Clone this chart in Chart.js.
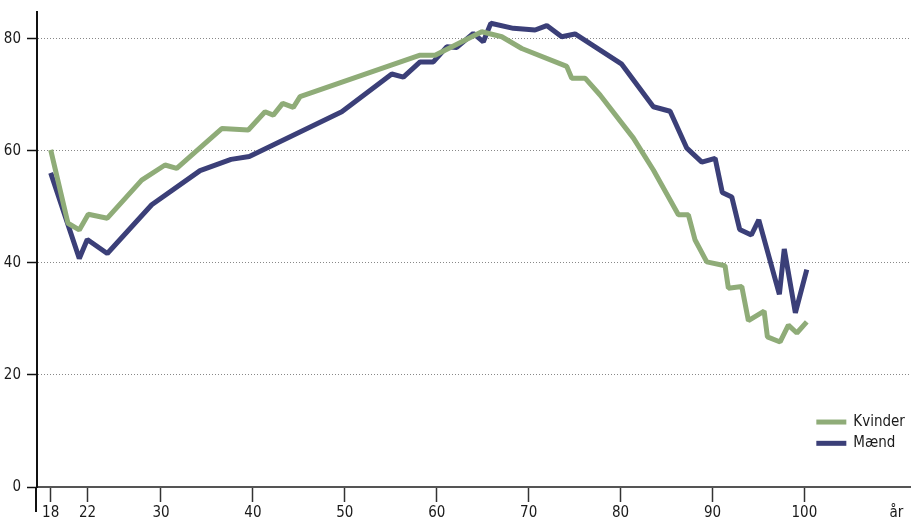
<!DOCTYPE html>
<html>
<head>
<meta charset="utf-8">
<script src="https://cdn.jsdelivr.net/npm/chart.js@4/dist/chart.umd.min.js"></script>
<style>
html,body{margin:0;padding:0;background:#fff;}
#c{display:block;}
</style>
</head>
<body>
<canvas id="c" width="911" height="519"></canvas>
<script>
// ---- data ----
const ageKvinder = [18, 19.88, 21.11, 22.09, 24.16, 27.9, 30.44, 31.71, 36.61, 39.5, 41.32, 42.22, 43.24, 44.4, 45.13, 58.19, 59.82, 64.9, 67.08, 69.25, 74.15, 74.69, 76.14, 77.77, 81.4, 83.57, 86.29, 87.38, 88.11, 89.38, 91.37, 91.73, 93.19, 93.91, 95.62, 95.98, 97.36, 98.26, 99.18, 100.26];
const valKvinder = [60.2, 47.1, 45.9, 48.7, 48.0, 54.8, 57.5, 56.9, 64.0, 63.75, 67.0, 66.4, 68.5, 67.8, 69.7, 77.1, 77.1, 81.3, 80.4, 78.3, 75.1, 73.0, 73.0, 70.0, 62.3, 56.6, 48.6, 48.6, 44.1, 40.2, 39.5, 35.5, 35.8, 29.7, 31.4, 26.8, 25.9, 28.9, 27.5, 29.5];
const ageMaend = [18, 21.11, 21.98, 24.16, 28.99, 34.25, 37.62, 39.61, 49.67, 55.11, 56.37, 58.19, 59.63, 61.09, 62.18, 63.98, 65.07, 65.88, 68.34, 70.7, 71.97, 73.6, 75.05, 80.13, 83.57, 85.39, 87.21, 88.84, 90.29, 91.07, 92.1, 92.96, 94.23, 95.04, 97.28, 97.81, 99.02, 100.26];
const valMaend = [56.1, 40.8, 44.2, 41.7, 50.4, 56.5, 58.5, 59.0, 67.0, 73.75, 73.2, 75.9, 75.9, 78.6, 78.5, 81.0, 79.5, 82.8, 81.9, 81.6, 82.4, 80.4, 80.9, 75.5, 67.9, 67.1, 60.5, 58.0, 58.7, 52.6, 51.8, 46.0, 45.0, 47.7, 34.4, 42.5, 31.1, 38.8];
const seriesNames = ['Kvinder', 'Mænd'];
const xTickValues = [18, 22, 30, 40, 50, 60, 70, 80, 90, 100, 110];
const xTickLabels = ['18', '22', '30', '40', '50', '60', '70', '80', '90', '100', 'år'];
const yTickValues = [0, 20, 40, 60, 80];

// ---- styles ----
const GREEN = '#8fac78';
const NAVY = '#3b3f78';
const FONT = '"Liberation Sans Narrow", "DejaVu Sans Condensed", "Roboto Condensed", "Liberation Sans", sans-serif';
const TEXT = '#1a1a1a';

const pts = (xs, ys) => xs.map((x, i) => ({x: x, y: ys[i]}));

const extras = {
  id: 'extras',
  afterDraw(chart) {
    const ctx = chart.ctx;
    const ys = chart.scales.y;
    const xs = chart.scales.x;
    // y axis line continuing below the x axis
    ctx.save();
    ctx.strokeStyle = '#111';
    ctx.lineWidth = 2;
    ctx.beginPath();
    const lx = Math.round(ys.right) - 1;
    ctx.moveTo(lx, ys.bottom);
    ctx.lineTo(lx, ys.bottom + 25);
    ctx.stroke();
    // legend
    const ds = chart.data.datasets;
    const lx0 = xs.getPixelForValue(101.3);
    const rowY = [ys.getPixelForValue(11.6), ys.getPixelForValue(7.8)];
    ctx.font = '15px ' + FONT;
    ctx.textBaseline = 'middle';
    ctx.textAlign = 'left';
    ds.forEach((d, i) => {
      ctx.strokeStyle = d.borderColor;
      ctx.lineWidth = 5;
      ctx.beginPath();
      ctx.moveTo(lx0, rowY[i]);
      ctx.lineTo(lx0 + 30, rowY[i]);
      ctx.stroke();
      ctx.fillStyle = TEXT;
      ctx.fillText(d.label, lx0 + 37, rowY[i]);
    });
    ctx.restore();
  }
};

new Chart(document.getElementById('c'), {
  type: 'line',
  data: {
    datasets: [
      {label: seriesNames[0], data: pts(ageKvinder, valKvinder), borderColor: GREEN, backgroundColor: GREEN,
       borderWidth: 5, pointRadius: 0, tension: 0, borderJoinStyle: 'bevel', order: 0},
      {label: seriesNames[1], data: pts(ageMaend, valMaend), borderColor: NAVY, backgroundColor: NAVY,
       borderWidth: 5, pointRadius: 0, tension: 0, borderJoinStyle: 'bevel', order: 1}
    ]
  },
  options: {
    responsive: false,
    animation: false,
    devicePixelRatio: 1,
    parsing: false,
    layout: {padding: {top: 12, left: 0, right: 0, bottom: 0}},
    plugins: {legend: {display: false}, tooltip: {enabled: false}},
    scales: {
      x: {
        type: 'linear', min: 16.51, max: 111.6,
        afterBuildTicks: s => { s.ticks = xTickValues.map(v => ({value: v})); },
        afterFit: s => { s.height = 32; },
        ticks: {autoSkip: false, maxRotation: 0, padding: 2, color: TEXT,
                font: {family: FONT, size: 15},
                callback: v => xTickLabels[xTickValues.indexOf(v)]},
        grid: {drawOnChartArea: false, drawTicks: true, tickLength: 15, tickWidth: 1.5,
               tickColor: c => (c.tick && c.tick.value === 110) ? 'rgba(0,0,0,0)' : '#333'},
        border: {display: true, color: '#555', width: 2}
      },
      y: {
        min: 0, max: 84.82,
        afterBuildTicks: s => { s.ticks = yTickValues.map(v => ({value: v})); },
        afterFit: s => { s.width = 37; s.paddingTop = 0; s.paddingBottom = 0; },
        ticks: {padding: 6, color: TEXT, font: {family: FONT, size: 15, lineHeight: 1}},
        grid: {lineWidth: 1, tickLength: 10, tickWidth: 1.5, tickColor: '#111',
               color: c => (c.tick && c.tick.value === 0) ? 'rgba(0,0,0,0)' : '#888'},
        border: {display: true, color: '#111', width: 2, dash: [1, 2]}
      }
    }
  },
  plugins: [extras]
});
</script>
</body>
</html>
